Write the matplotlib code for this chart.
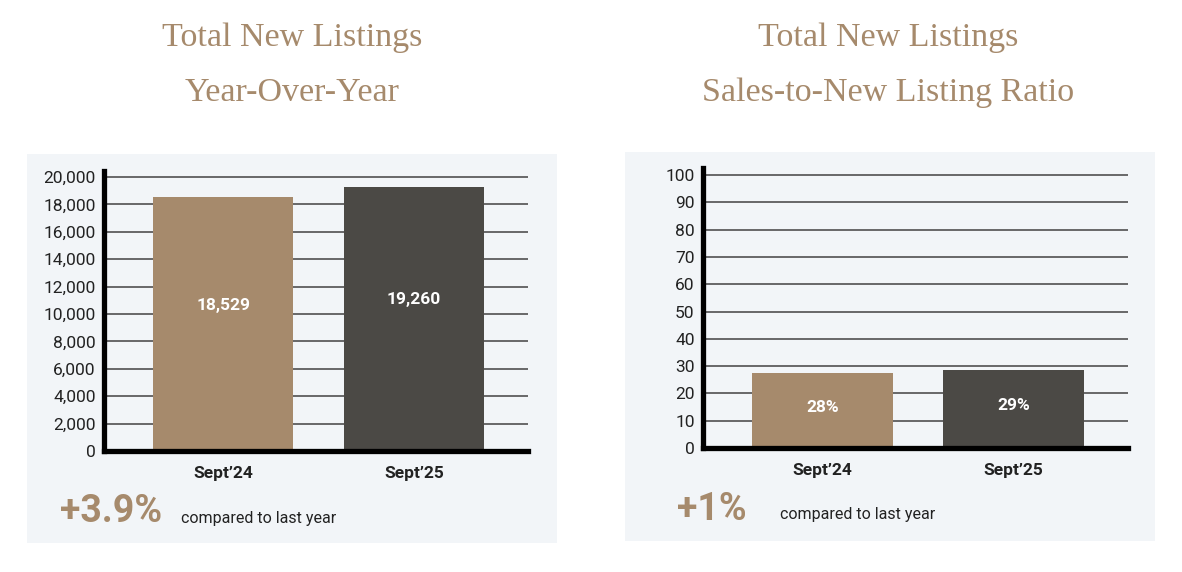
import matplotlib
matplotlib.use("Agg")
import matplotlib.pyplot as plt
from matplotlib.patches import Rectangle

# data
periods = ["Sept\u201924", "Sept\u201925"]
new_listings = [18529, 19260]
new_listings_labels = ["18,529", "19,260"]
ratio = [27.6, 28.5]
ratio_labels = ["28%", "29%"]
listings_ticks = list(range(0, 20001, 2000))
ratio_ticks = list(range(0, 101, 10))

tan = "#a68a6c"
dark = "#4b4945"
panel_bg = "#f2f5f8"
txt = "#222222"

fig = plt.figure(figsize=(11.82, 5.72), dpi=100)
fig.patch.set_facecolor("white")
W, H = 1182, 572


def fx(px):
    return px / W


def fy(py):
    return 1 - py / H


# light panels behind each chart
for x0, x1, y0, y1 in [(27, 557, 154, 543), (625, 1155, 152, 541)]:
    fig.patches.append(Rectangle((fx(x0), fy(y1)), fx(x1 - x0), (y1 - y0) / H,
                                 transform=fig.transFigure, facecolor=panel_bg,
                                 edgecolor="none", zorder=-5))


def bar_panel(ax, values, labels, ticks, ytop, fmt, label_frac):
    ax.set_zorder(2)
    ax.set_facecolor("none")
    ax.bar(range(len(values)), values, width=0.735, color=[tan, dark], zorder=3)
    for i, (v, lab) in enumerate(zip(values, labels)):
        ax.text(i, v * label_frac, lab, ha="center", va="center", color="white",
                fontsize=12.5, fontweight="bold", family="Roboto", zorder=4)
    ax.set_xlim(-0.625, 1.598)
    ax.set_ylim(0, ytop)
    ax.set_yticks(ticks)
    ax.set_yticklabels([fmt(t) for t in ticks], family="Roboto", fontweight="normal",
                       fontsize=12.5, color=txt)
    ax.set_xticks(range(len(values)))
    ax.set_xticklabels(periods, family="Roboto", fontweight="bold", fontsize=12.5, color=txt)
    ax.tick_params(axis="both", length=0)
    ax.tick_params(axis="y", pad=6)
    ax.tick_params(axis="x", pad=11)
    for t in ticks[1:]:
        ax.axhline(t, color="#505050", lw=1.2, zorder=1)
    for s in ["top", "right"]:
        ax.spines[s].set_visible(False)
    for s in ["left", "bottom"]:
        ax.spines[s].set_linewidth(3.8)
        ax.spines[s].set_color("black")
        ax.spines[s].set_zorder(5)


ax1 = fig.add_axes([fx(104), fy(451), fx(528 - 104), (451 - 171) / H])
bar_panel(ax1, new_listings, new_listings_labels, listings_ticks, 20440,
          lambda t: f"{t:,}", 0.575)

ax2 = fig.add_axes([fx(703), fy(448), fx(1128 - 703), (448 - 168) / H])
bar_panel(ax2, ratio, ratio_labels, ratio_ticks, 102.6, lambda t: f"{t}", 0.54)

# titles
title_kw = dict(ha="center", va="center", color=tan, family="Liberation Serif", fontsize=24.5)
fig.text(fx(292), fy(38), "Total New Listings", **title_kw)
fig.text(fx(292), fy(93), "Year-Over-Year", **title_kw)
fig.text(fx(888), fy(38), "Total New Listings", **title_kw)
fig.text(fx(888), fy(93), "Sales-to-New Listing Ratio", **title_kw)

# change vs last year
big_kw = dict(ha="left", va="center", color=tan, family="Roboto", fontweight="bold", fontsize=27)
small_kw = dict(ha="left", va="center", color=txt, family="Roboto", fontsize=11.5)
fig.text(fx(60), fy(512), "+3.9%", **big_kw)
fig.text(fx(181), fy(518), "compared to last year", **small_kw)
fig.text(fx(677), fy(510), "+1%", **big_kw)
fig.text(fx(780), fy(515), "compared to last year", **small_kw)

fig.savefig("out.png", dpi=100, facecolor="white")
